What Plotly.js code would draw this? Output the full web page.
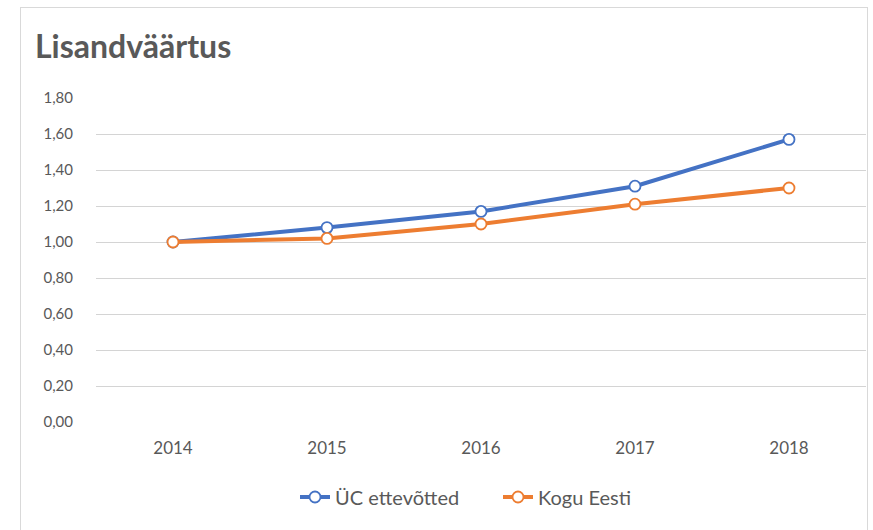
<!DOCTYPE html>
<html><head><meta charset="utf-8">
<script src="https://cdn.plot.ly/plotly-3.0.1.min.js"></script>
<style>
body{margin:0;padding:0;background:#fff;}
#frame{position:absolute;left:20px;top:7px;width:848px;height:530px;border:1px solid #d9d9d9;box-sizing:border-box;}
#chart{position:absolute;left:0;top:0;width:873px;height:530px;}
</style></head>
<body>
<div id="frame"></div>
<div id="chart"></div>
<script>
const years = ['2014','2015','2016','2017','2018'];
const ucValues = [1.00, 1.08, 1.17, 1.31, 1.57];
const eestiValues = [1.00, 1.02, 1.10, 1.21, 1.30];
const seriesNames = ['ÜC ettevõtted', 'Kogu Eesti'];
const yTicks = [0,0.2,0.4,0.6,0.8,1.0,1.2,1.4,1.6,1.8];

const font = 'Lato, "Open Sans", sans-serif';
const traces = [
  {x: years, y: ucValues, name: seriesNames[0], type:'scatter', mode:'lines+markers',
   line:{color:'#4472c4', width:4}, marker:{size:11, color:'#ffffff', line:{color:'#4472c4', width:1.8}}},
  {x: years, y: eestiValues, name: seriesNames[1], type:'scatter', mode:'lines+markers',
   line:{color:'#ed7d31', width:4}, marker:{size:11, color:'#ffffff', line:{color:'#ed7d31', width:1.8}}}
];
const layout = {
  width:873, height:530,
  paper_bgcolor:'rgba(0,0,0,0)', plot_bgcolor:'rgba(0,0,0,0)',
  separators:', ',
  margin:{l:96, r:7, t:98, b:108},
  font:{family:font, size:14, color:'#595959'},
  title:{text:'<b>Lisandväärtus</b>', x:35/873, xref:'container', xanchor:'left', y:1-47/530, yanchor:'middle',
         font:{family:font, size:32, color:'#595959'}},
  xaxis:{type:'category', range:[-0.5,4.5], showgrid:false, zeroline:false, showline:false, ticks:'',
         ticklabelstandoff:14, tickfont:{size:17, color:'#595959'}},
  yaxis:{range:[0,1.8], tickvals:yTicks, tickformat:'.2f', showgrid:true, gridcolor:'#d4d4d4', gridwidth:1,
         zeroline:false, showline:false, ticks:'', ticklabelstandoff:22, tickfont:{size:15, color:'#595959'}},
  showlegend:true,
  legend:{orientation:'h', x:295/873, xanchor:'left', xref:'container', y:1-497/530, yref:'container', yanchor:'middle',
          font:{size:20, color:'#595959'}, entrywidth:158, entrywidthmode:'pixels', tracegroupgap:0}
};
Plotly.newPlot('chart', traces, layout, {displayModeBar:false});
</script>
</body></html>
